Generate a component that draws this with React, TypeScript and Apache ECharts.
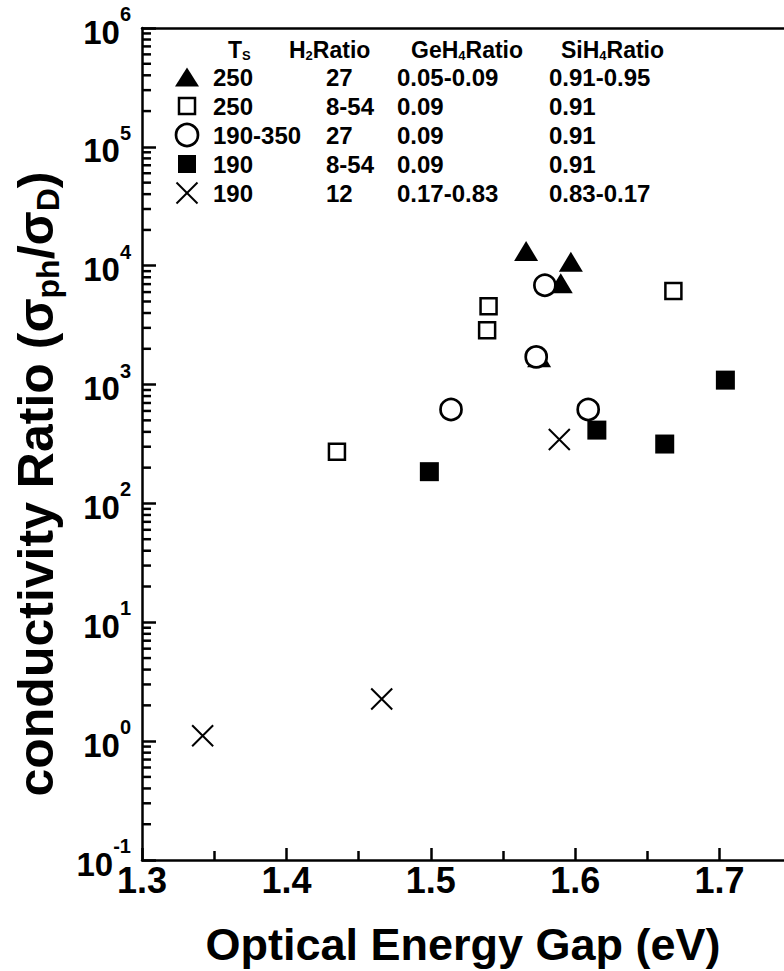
import React, { useEffect, useRef } from 'react';
import * as echarts from 'echarts';

// ---- data ----
const triX = [1.566, 1.597, 1.590, 1.575];
const triY = [13300, 10800, 7130, 1700];
const openSqX = [1.435, 1.539, 1.540, 1.668];
const openSqY = [272, 2870, 4560, 6140];
const circX = [1.514, 1.573, 1.579, 1.609];
const circY = [618, 1710, 6860, 618];
const fillSqX = [1.499, 1.615, 1.662, 1.704];
const fillSqY = [185, 414, 316, 1090];
const crossX = [1.342, 1.466, 1.589];
const crossY = [1.11, 2.26, 345];

const xTickLabels = ['1.3', '1.4', '1.5', '1.6', '1.7'];
const yDecadeExponents = [-1, 0, 1, 2, 3, 4, 5, 6];

const legendTs = ['250', '250', '190-350', '190', '190'];
const legendH2 = ['27', '8-54', '27', '8-54', '12'];
const legendGe = ['0.05-0.09', '0.09', '0.09', '0.09', '0.17-0.83'];
const legendSi = ['0.91-0.95', '0.91', '0.91', '0.91', '0.83-0.17'];

const pairs = (xs: number[], ys: number[]) => xs.map((x, i) => [x, ys[i]]);

// minor tick positions of a log axis (2..9 in each decade)
const yMinorTicks: number[] = [];
for (let e = -1; e < 6; e++) {
  for (let m = 2; m <= 9; m++) yMinorTicks.push(m * Math.pow(10, e));
}

const ARIAL = '"Liberation Sans", Arial, Helvetica, sans-serif';

export default function App() {
  const ref = useRef<HTMLDivElement>(null);
  useEffect(() => {
    if (!ref.current) return;
    const chart = echarts.init(ref.current, undefined, { renderer: 'svg' });

    const legendFont = `bold 24px ${ARIAL}`;
    const rowY0 = 77;
    const rowDY = 29;
    const symX = 187;
    const legendGraphics: any[] = [];
    const headerRich = {
      n: { fontSize: 23, fontWeight: 'bold', fontFamily: ARIAL, fill: '#000' },
      sub: { fontSize: 13, fontWeight: 'bold', fontFamily: ARIAL, fill: '#000', padding: [10, 0, 0, 0] },
    };
    const headers = [
      { x: 228, t: '{n|T}{sub|S}' },
      { x: 289, t: '{n|H}{sub|2}{n|Ratio}' },
      { x: 411, t: '{n|GeH}{sub|4}{n|Ratio}' },
      { x: 561, t: '{n|SiH}{sub|4}{n|Ratio}' },
    ];
    headers.forEach((h) =>
      legendGraphics.push({
        type: 'text',
        x: h.x,
        y: 50,
        style: { text: h.t, rich: headerRich, align: 'left', verticalAlign: 'middle', textAlign: 'left', textVerticalAlign: 'middle' },
      })
    );
    const cols = [
      { x: 213, arr: legendTs },
      { x: 326, arr: legendH2 },
      { x: 397, arr: legendGe },
      { x: 549, arr: legendSi },
    ];
    cols.forEach((c) =>
      c.arr.forEach((t, i) =>
        legendGraphics.push({
          type: 'text',
          x: c.x,
          y: rowY0 + i * rowDY,
          style: { text: t, font: legendFont, fill: '#000', align: 'left', verticalAlign: 'middle', textAlign: 'left', textVerticalAlign: 'middle' },
        })
      )
    );
    // legend symbols
    legendGraphics.push({
      type: 'polygon',
      shape: { points: [[symX, rowY0 - 9.5], [symX + 12, rowY0 + 9.5], [symX - 12, rowY0 + 9.5]] },
      style: { fill: '#000' },
    });
    legendGraphics.push({
      type: 'rect',
      shape: { x: symX - 8, y: rowY0 + rowDY - 8, width: 16, height: 16 },
      style: { fill: '#fff', stroke: '#000', lineWidth: 2.5 },
    });
    legendGraphics.push({
      type: 'circle',
      shape: { cx: symX, cy: rowY0 + 2 * rowDY, r: 11 },
      style: { fill: '#fff', stroke: '#000', lineWidth: 2.7 },
    });
    legendGraphics.push({
      type: 'rect',
      shape: { x: symX - 9, y: rowY0 + 3 * rowDY - 9, width: 18, height: 18 },
      style: { fill: '#000' },
    });
    const cy = rowY0 + 4 * rowDY;
    legendGraphics.push({
      type: 'line',
      shape: { x1: symX - 10.5, y1: cy - 10.5, x2: symX + 10.5, y2: cy + 10.5 },
      style: { stroke: '#000', lineWidth: 2 },
    });
    legendGraphics.push({
      type: 'line',
      shape: { x1: symX + 10.5, y1: cy - 10.5, x2: symX - 10.5, y2: cy + 10.5 },
      style: { stroke: '#000', lineWidth: 2 },
    });

    // axis titles
    const titleGraphics: any[] = [
      {
        type: 'text',
        x: 463,
        y: 944,
        style: {
          text: 'Optical Energy Gap (eV)',
          font: `bold 45px ${ARIAL}`,
          fill: '#000',
          align: 'center',
          verticalAlign: 'middle',
          textAlign: 'center',
          textVerticalAlign: 'middle',
        },
      },
      {
        type: 'text',
        x: 36,
        y: 484,
        rotation: Math.PI / 2,
        style: {
          text: '{n|conductivity Ratio (σ}{sub|ph}{n|/σ}{sub|D}{n|)}',
          rich: {
            n: { fontSize: 50, fontWeight: 'bold', fontFamily: ARIAL, fill: '#000' },
            sub: { fontSize: 32, fontWeight: 'bold', fontFamily: ARIAL, fill: '#000', padding: [24, 0, 0, 0] },
          },
          align: 'center',
          verticalAlign: 'middle',
          textAlign: 'center',
          textVerticalAlign: 'middle',
        },
      },
    ];

    const lineStyle = { color: '#000', width: 2.5 };

    chart.setOption({
      animation: false,
      backgroundColor: '#fff',
      grid: {
        left: 142,
        top: 28,
        width: 722,
        height: 832,
        containLabel: false,
        outerBoundsMode: 'none',
      },
      xAxis: [
        {
          type: 'value',
          min: 1.3,
          max: 1.8,
          interval: 0.1,
          axisLine: { show: true, lineStyle },
          axisTick: { show: true, inside: true, length: 12, lineStyle: { color: '#000', width: 2.5 } },
          minorTick: { show: true, splitNumber: 2, length: 9, lineStyle: { color: '#000', width: 2.5 } },
          splitLine: { show: false },
          axisLabel: {
            margin: 2,
            formatter: (v: number) => {
              const s = v.toFixed(1);
              return xTickLabels.indexOf(s) >= 0 ? s : '';
            },
            fontFamily: ARIAL,
            fontWeight: 'bold',
            fontSize: 36,
            color: '#000',
          },
        },
        {
          type: 'value',
          position: 'top',
          min: 1.3,
          max: 1.8,
          interval: 0.1,
          axisLine: { show: true, lineStyle },
          axisTick: { show: false },
          axisLabel: { show: false },
          splitLine: { show: false },
        },
      ],
      yAxis: {
        type: 'log',
        logBase: 10,
        min: 0.1,
        max: 1e6,
        axisLine: { show: true, lineStyle },
        axisTick: { show: true, inside: true, length: 14, lineStyle: { color: '#000', width: 2.5 } },
        splitLine: { show: false },
        axisLabel: {
          margin: 11,
          formatter: (v: number) => {
            const e = Math.round(Math.log10(v));
            return yDecadeExponents.indexOf(e) >= 0 ? `{b|10}{s|${e}}` : '';
          },
          rich: {
            b: { fontFamily: ARIAL, fontWeight: 'bold', fontSize: 33, color: '#000', padding: [8, 0, 0, 0] },
            s: { fontFamily: ARIAL, fontWeight: 'bold', fontSize: 20, color: '#000', padding: [0, 0, 28, 0] },
          },
        },
      },
      graphic: [...legendGraphics, ...titleGraphics],
      series: [
        {
          name: 'minor ticks',
          type: 'custom',
          silent: true,
          data: yMinorTicks.map((v) => [1.3, v]),
          renderItem: (params: any, api: any) => {
            const p = api.coord([api.value(0), api.value(1)]);
            return {
              type: 'line',
              shape: { x1: p[0], y1: p[1], x2: p[0] + 9, y2: p[1] },
              style: { stroke: '#000', lineWidth: 2.5 },
            };
          },
          z: 3,
        },
        {
          name: 'triangle',
          type: 'scatter',
          symbol: 'triangle',
          symbolSize: [24, 20],
          itemStyle: { color: '#000', opacity: 1 },
          data: pairs(triX, triY),
          z: 4,
        },
        {
          name: 'open square',
          type: 'scatter',
          symbol: 'rect',
          symbolSize: 16,
          itemStyle: { color: '#fff', borderColor: '#000', borderWidth: 2.5, opacity: 1 },
          data: pairs(openSqX, openSqY),
          z: 5,
        },
        {
          name: 'circle',
          type: 'scatter',
          symbol: 'circle',
          symbolSize: 21,
          itemStyle: { color: '#fff', borderColor: '#000', borderWidth: 2.7, opacity: 1 },
          data: pairs(circX, circY),
          z: 5,
        },
        {
          name: 'filled square',
          type: 'scatter',
          symbol: 'rect',
          symbolSize: 19,
          itemStyle: { color: '#000', opacity: 1 },
          data: pairs(fillSqX, fillSqY),
          z: 6,
        },
        {
          name: 'cross',
          type: 'scatter',
          symbol: 'path://M0,0L10,10M10,0L0,10',
          symbolSize: 21,
          itemStyle: { color: 'none', borderColor: '#000', borderWidth: 2, opacity: 1 },
          data: pairs(crossX, crossY),
          z: 6,
        },
      ],
    });

    return () => chart.dispose();
  }, []);

  return (
    <div
      ref={ref}
      style={{ position: 'absolute', left: 0, top: 0, width: 784, height: 971, background: '#fff' }}
    />
  );
}
